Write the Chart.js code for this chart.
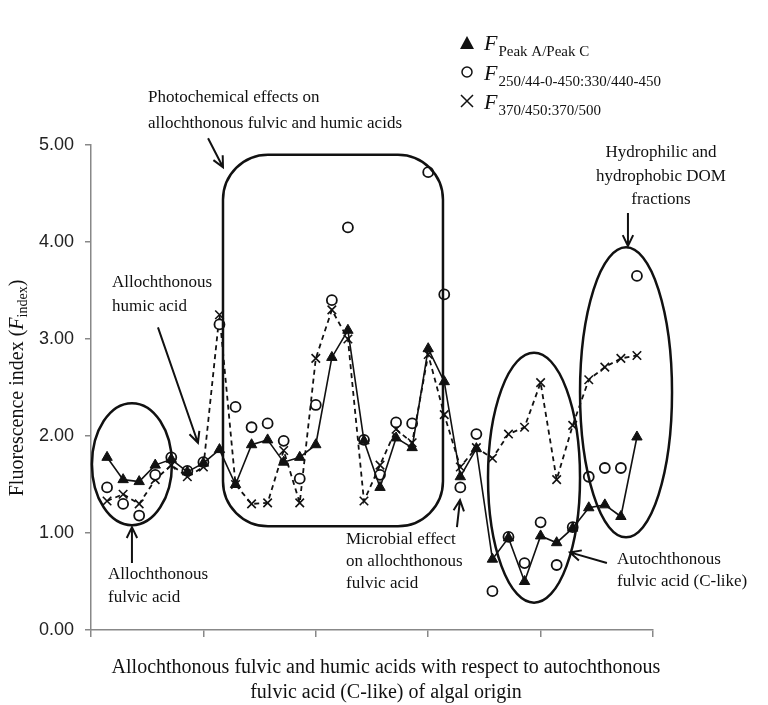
<!DOCTYPE html>
<html>
<head>
<meta charset="utf-8">
<script src="https://cdn.jsdelivr.net/npm/chart.js@4.4.0/dist/chart.umd.min.js"></script>
<style>
html,body{margin:0;padding:0;background:#fff}
#wrap{width:768px;height:705px}
</style>
</head>
<body>
<div id="wrap"><canvas id="chart"></canvas></div>
<script>
// sample number along the x axis (no labels shown in the original)
var samples = [1,2,3,4,5,6,7,8,9,10,11,12,13,14,15,16,17,18,19,20,21,22,23,24,25,26,27,28,29,30,31,32,33,34];

// F Peak A / Peak C
var peakRatio = [1.78,1.55,1.53,1.70,1.76,1.63,1.72,1.86,1.50,1.91,1.96,1.73,1.78,1.91,2.81,3.09,1.95,1.47,1.98,1.88,2.90,2.56,1.58,1.87,0.73,0.95,0.50,0.97,0.90,1.05,1.26,1.29,1.17,1.99];
// F 250/440-450 : 330/440-450
var ratio250 = [1.47,1.30,1.18,1.60,1.78,1.64,1.73,3.15,2.30,2.09,2.13,1.95,1.56,2.32,3.40,4.15,1.96,1.60,2.14,2.13,4.72,3.46,1.47,2.02,0.40,0.96,0.69,1.11,0.67,1.06,1.58,1.67,1.67,3.65];
// F 370/450 : 370/500
var ratio370 = [1.33,1.40,1.30,1.55,1.70,1.58,1.68,3.25,1.50,1.30,1.31,1.85,1.31,2.80,3.30,3.00,1.33,1.70,2.07,1.93,2.84,2.22,1.68,1.88,1.77,2.02,2.09,2.55,1.55,2.11,2.58,2.71,2.80,2.83];

function pts(vals) {
  return samples.map(function (s, i) { return {x: s, y: vals[i]}; });
}

var serif = '"Liberation Serif", "Times New Roman", serif';

function arrow(ctx, x1, y1, x2, y2) {
  var a = Math.atan2(y2 - y1, x2 - x1), h = 12;
  ctx.beginPath();
  ctx.moveTo(x1, y1); ctx.lineTo(x2, y2);
  ctx.moveTo(x2 - h * Math.cos(a - 0.45), y2 - h * Math.sin(a - 0.45));
  ctx.lineTo(x2, y2);
  ctx.lineTo(x2 - h * Math.cos(a + 0.45), y2 - h * Math.sin(a + 0.45));
  ctx.stroke();
}

function roundBox(ctx, l, t, r, b, rad) {
  ctx.beginPath();
  ctx.moveTo(l + rad, t);
  ctx.arcTo(r, t, r, b, rad);
  ctx.arcTo(r, b, l, b, rad);
  ctx.arcTo(l, b, l, t, rad);
  ctx.arcTo(l, t, r, t, rad);
  ctx.closePath();
  ctx.stroke();
}

function fSub(ctx, x, y, sub) {
  ctx.font = 'italic 22px ' + serif;
  ctx.textAlign = 'left';
  ctx.textBaseline = 'alphabetic';
  ctx.fillText('F', x, y);
  var w = ctx.measureText('F').width;
  ctx.font = '15px ' + serif;
  ctx.fillText(sub, x + w + 1, y + 6);
}

var notes = {
  id: 'notes',
  afterDraw: function (chart) {
    var ctx = chart.ctx, xs = chart.scales.x, ys = chart.scales.y;
    function X(v) { return xs.getPixelForValue(v); }
    function Y(v) { return ys.getPixelForValue(v); }
    ctx.save();
    ctx.strokeStyle = '#111';
    ctx.fillStyle = '#111';

    // boxes and ellipses
    ctx.lineWidth = 2.5;
    roundBox(ctx, X(8.22), Y(4.90), X(21.92), Y(1.07), 45);
    ctx.beginPath(); ctx.ellipse(X(2.55), Y(1.71), 40, 61, 0, 0, Math.PI * 2); ctx.stroke();
    ctx.beginPath(); ctx.ellipse(X(27.59), Y(1.57), 46, 125, 0, 0, Math.PI * 2); ctx.stroke();
    ctx.beginPath(); ctx.ellipse(X(33.32), Y(2.45), 46, 145, 0, 0, Math.PI * 2); ctx.stroke();

    // arrows
    ctx.lineWidth = 2;
    arrow(ctx, X(7.29), Y(5.07), X(8.22), Y(4.77));
    arrow(ctx, X(33.44), Y(4.30), X(33.44), Y(3.96));
    arrow(ctx, X(4.17), Y(3.12), X(6.66), Y(1.93));
    arrow(ctx, X(2.55), Y(0.69), X(2.55), Y(1.06));
    arrow(ctx, X(22.79), Y(1.06), X(22.98), Y(1.34));
    arrow(ctx, X(32.13), Y(0.69), X(29.83), Y(0.80));

    // annotation text
    ctx.font = '17px ' + serif;
    ctx.textBaseline = 'middle';
    ctx.textAlign = 'left';
    ctx.fillText('Photochemical effects on', 148, 98);
    ctx.fillText('allochthonous fulvic and humic acids', 148, 124);
    ctx.fillText('Allochthonous', 112, 283);
    ctx.fillText('humic acid', 112, 307);
    ctx.fillText('Allochthonous', 108, 575);
    ctx.fillText('fulvic acid', 108, 598);
    ctx.fillText('Microbial effect', 346, 540);
    ctx.fillText('on allochthonous', 346, 562);
    ctx.fillText('fulvic acid', 346, 584);
    ctx.fillText('Autochthonous', 617, 560);
    ctx.fillText('fulvic acid (C-like)', 617, 582);
    ctx.textAlign = 'center';
    ctx.fillText('Hydrophilic and', 661, 153);
    ctx.fillText('hydrophobic DOM', 661, 177);
    ctx.fillText('fractions', 661, 200);

    // legend
    ctx.lineWidth = 1.5;
    ctx.beginPath();
    ctx.moveTo(467, 36); ctx.lineTo(474, 49); ctx.lineTo(460, 49); ctx.closePath(); ctx.fill();
    ctx.beginPath(); ctx.arc(467, 72, 5, 0, Math.PI * 2); ctx.stroke();
    ctx.beginPath();
    ctx.moveTo(461, 95); ctx.lineTo(473, 107); ctx.moveTo(473, 95); ctx.lineTo(461, 107);
    ctx.stroke();
    fSub(ctx, 484, 50, 'Peak A/Peak C');
    fSub(ctx, 484, 80, '250/44-0-450:330/440-450');
    fSub(ctx, 484, 109, '370/450:370/500');

    // axis titles
    ctx.font = '20px ' + serif;
    ctx.textAlign = 'center';
    ctx.textBaseline = 'middle';
    ctx.fillText('Allochthonous fulvic and humic acids with respect to autochthonous', 386, 668);
    ctx.fillText('fulvic acid (C-like) of algal origin', 386, 693);

    ctx.translate(18, 388);
    ctx.rotate(-Math.PI / 2);
    var p1 = 'Fluorescence index (', p3 = ')';
    ctx.font = '20px ' + serif;
    var w1 = ctx.measureText(p1).width, w3 = ctx.measureText(p3).width;
    ctx.font = 'italic 20px ' + serif;
    var w2 = ctx.measureText('F').width;
    ctx.font = '14px ' + serif;
    var w2s = ctx.measureText('index').width;
    var x0 = -(w1 + w2 + w2s + w3) / 2;
    ctx.textAlign = 'left';
    ctx.font = '20px ' + serif;
    ctx.fillText(p1, x0, 0);
    ctx.font = 'italic 20px ' + serif;
    ctx.fillText('F', x0 + w1, 0);
    ctx.font = '14px ' + serif;
    ctx.fillText('index', x0 + w1 + w2, 5);
    ctx.font = '20px ' + serif;
    ctx.fillText(p3, x0 + w1 + w2 + w2s, 0);
    ctx.restore();
  }
};

new Chart(document.getElementById('chart').getContext('2d'), {
  type: 'line',
  data: {
    datasets: [{
      label: 'F Peak A/Peak C',
      data: pts(peakRatio),
      borderColor: '#111',
      backgroundColor: '#111',
      borderWidth: 1.6,
      pointStyle: 'triangle',
      pointRadius: 6,
      pointBorderWidth: 1,
      tension: 0
    }, {
      label: 'F 250/440-450:330/440-450',
      data: pts(ratio250),
      showLine: false,
      borderColor: '#111',
      backgroundColor: '#fff',
      pointStyle: 'circle',
      pointRadius: 5,
      pointBorderWidth: 1.8
    }, {
      label: 'F 370/450:370/500',
      data: pts(ratio370),
      borderColor: '#111',
      backgroundColor: '#111',
      borderWidth: 1.8,
      borderDash: [5, 4],
      pointStyle: 'crossRot',
      pointRadius: 6,
      pointBorderWidth: 1.6,
      tension: 0
    }]
  },
  options: {
    responsive: true,
    maintainAspectRatio: false,
    animation: false,
    layout: {padding: {top: 145, right: 115, left: 0, bottom: 0}},
    plugins: {legend: {display: false}, tooltip: {enabled: false}},
    scales: {
      x: {
        type: 'linear',
        min: 0,
        max: 35,
        ticks: {stepSize: 7, callback: function () { return ''; }},
        grid: {drawOnChartArea: false, drawTicks: true, tickLength: 7, color: '#888', lineWidth: 1.5},
        border: {color: '#888', width: 1.5},
        afterFit: function (s) { s.height = 75; }
      },
      y: {
        min: 0,
        max: 5,
        ticks: {
          stepSize: 1,
          padding: 11,
          color: '#222',
          font: {family: '"Liberation Sans", Arial, sans-serif', size: 18},
          callback: function (v) { return v.toFixed(2); }
        },
        grid: {drawOnChartArea: false, drawTicks: true, tickLength: 6, color: '#888', lineWidth: 1.5},
        border: {color: '#888', width: 1.5},
        afterFit: function (s) { s.width = 91; }
      }
    }
  },
  plugins: [notes]
});
</script>
</body>
</html>
